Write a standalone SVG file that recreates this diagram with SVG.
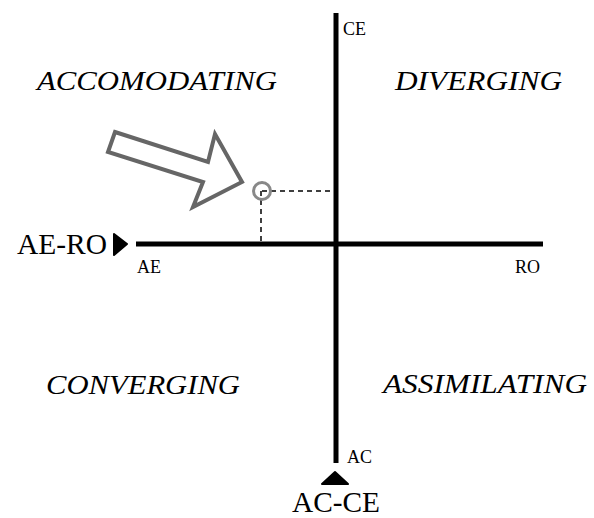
<svg xmlns="http://www.w3.org/2000/svg" width="594" height="518" viewBox="0 0 594 518">
<style>
.q{font-family:"Liberation Serif","Times New Roman",serif;font-style:italic;font-size:27px;fill:#000}
.ax{font-family:"Liberation Serif","Times New Roman",serif;font-size:18px;fill:#000}
.big{font-family:"Liberation Serif","Times New Roman",serif;font-size:29px;fill:#000}
.axis{stroke:#000;stroke-width:5;fill:none}
.dash{stroke:#000;stroke-width:1.5;stroke-dasharray:5,4;fill:none}
</style>
<rect width="594" height="518" fill="#fff"/>
<g id="connectors">
<line class="axis" x1="336" y1="13" x2="336" y2="463"/>
<line class="axis" x1="136" y1="244" x2="543" y2="244"/>
<line class="dash" x1="262" y1="191" x2="333" y2="191"/>
<line class="dash" x1="261" y1="191" x2="261" y2="242"/>
</g>
<g id="quadrants">
<text class="q" x="37" y="90" textLength="240" lengthAdjust="spacingAndGlyphs">ACCOMODATING</text>
<text class="q" x="395" y="90" textLength="167" lengthAdjust="spacingAndGlyphs">DIVERGING</text>
<text class="q" x="46" y="394" textLength="194" lengthAdjust="spacingAndGlyphs">CONVERGING</text>
<text class="q" x="383" y="393" textLength="204" lengthAdjust="spacingAndGlyphs">ASSIMILATING</text>
</g>
<g id="axis-labels">
<text class="ax" x="343" y="35">CE</text>
<text class="ax" x="347" y="463">AC</text>
<text class="ax" x="137" y="273">AE</text>
<text class="ax" x="515" y="273">RO</text>
</g>
<g id="ae-ro">
<text class="big" x="17" y="254" textLength="90" lengthAdjust="spacingAndGlyphs">AE-RO</text>
<path d="M114,234 L127,244 L114,255 Z" fill="#000" stroke="#000" stroke-width="2" stroke-linejoin="round"/>
</g>
<g id="ac-ce">
<path d="M335,472 L348,484 L322,484 Z" fill="#000" stroke="#000" stroke-width="2" stroke-linejoin="round"/>
<text class="big" x="292" y="512" textLength="88" lengthAdjust="spacingAndGlyphs">AC-CE</text>
</g>
<g id="pointer">
<polygon points="115,132 208,162 215,134 242,182 193,207 203,182 108,152" fill="#fff" stroke="#666" stroke-width="4" stroke-linejoin="miter"/>
</g>
<g id="point">
<circle cx="262" cy="191" r="8.5" fill="none" stroke="#888" stroke-width="3"/>
</g>
</svg>
